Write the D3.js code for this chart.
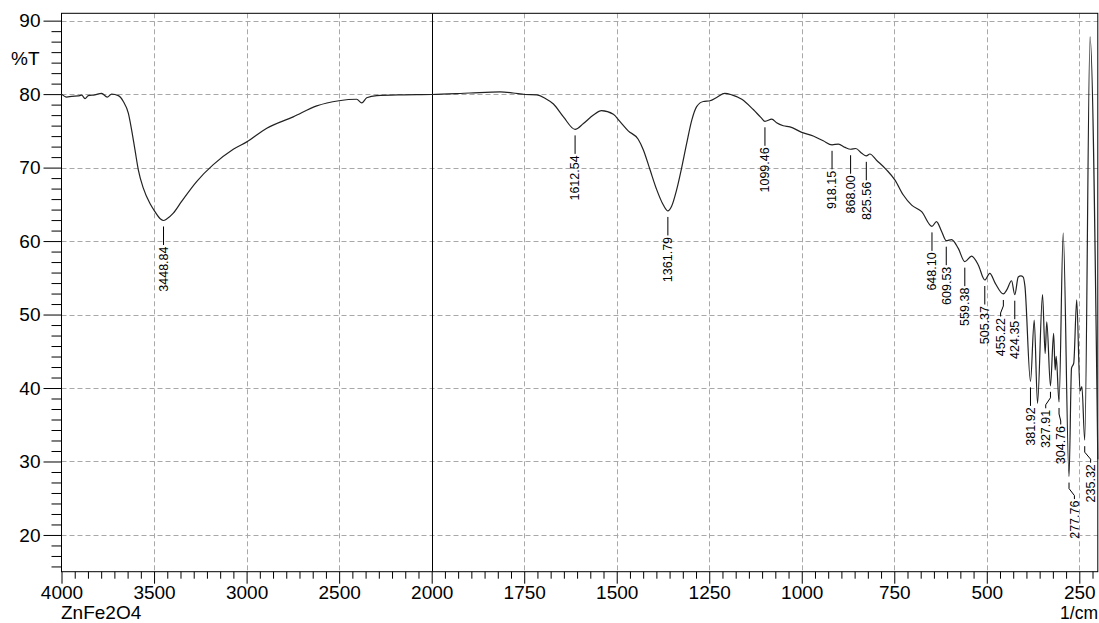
<!DOCTYPE html>
<html><head><meta charset="utf-8">
<script src="https://cdn.jsdelivr.net/npm/d3@7"></script>
<style>
body{margin:0;background:#fff}
svg{display:block}
text{font-family:"Liberation Sans",Arial,sans-serif;fill:#000}
</style>
</head><body>
<svg id="c" width="1099" height="623"></svg>
<script>
// ---- data ----
const wavenumbers = [4000,3972,3945,3910,3891,3873,3855,3820,3783,3753,3729,3693,3666,3639,3621,3603,3585,3558,3522,3495,3465,3448.84,3432,3396,3351,3270,3180,3072,2999,2891,2748,2621,2501,2405,2378,2351,2297,2150,2000,
1897,1815,1780,1748,1716,1694,1671,1644,1612.54,1590,1563,1541,1509,1491,1469,1442,1428,1410,1392,1374,1361.79,1352,1338,1324,1311,1297,1284,1266,1248,1230,1208,1189,1162,1131,1110,1099.46,1081,1068,1050,1032,1000,969,942,918.15,901,883,868.00,854,838,825.56,816,798,771,748,726,703,676,648.10,636,622,609.53,595,577,559.38,541,523,505.37,492,477,455.22,446,433,424.35,415,408,401.5,397,381.92,371.8,362.9,349.4,342.3,337.9,327.91,319.4,315.2,312.4,304.76,293.5,277.76,271,265,257,248,243,235.32,221,200];
const transmittance = [80.0,79.6,79.7,79.75,79.85,79.4,79.8,79.9,80.1,79.6,80.0,79.8,79.0,77.4,75.1,72.4,69.7,67.2,65.1,64.0,63.0,62.8,63.0,63.8,65.4,68.1,70.4,72.5,73.5,75.35,76.9,78.4,79.1,79.3,78.8,79.5,79.8,79.9,79.95,
80.15,80.3,80.15,79.95,79.9,79.45,78.65,76.9,75.2,76.0,77.15,77.75,77.25,76.25,75.0,73.85,72.4,69.7,67.0,64.9,64.1,64.7,67.0,70.1,73.3,76.5,78.3,79.0,79.1,79.55,80.1,79.9,79.3,77.9,76.8,76.3,76.6,76.1,75.7,75.55,74.8,74.3,73.65,73.1,73.2,72.75,72.5,72.6,71.95,71.6,71.85,71.0,69.7,68.3,66.3,64.9,64.0,62.0,62.65,61.3,60.05,60.2,59.0,57.2,57.95,56.75,54.7,55.6,54.25,52.8,53.35,54.6,52.7,55.1,55.25,55.1,53.9,40.9,49.25,37.9,52.7,44.7,49.0,40.3,47.45,42.45,44.3,38.1,61.1,27.95,42.7,43.4,52.0,39.6,40.2,32.9,87.8,30.3];

const xTickValues = [4000,3500,3000,2500,2000,1750,1500,1250,1000,750,500,250];
const yTickValues = [20,30,40,50,60,70,80,90];

const peakNames = ["3448.84","1612.54","1361.79","1099.46","918.15","868.00","825.56","648.10","609.53","559.38","505.37","455.22","424.35","381.92","327.91","304.76","277.76","235.32"];
const peakWavenumbers = [3448.84,1612.54,1361.79,1099.46,918.15,868.00,825.56,648.10,609.53,559.38,505.37,455.22,424.35,381.92,327.91,304.76,277.76,235.32];
// wavenumber at which each label's text is centred (differs where labels were pushed aside)
const peakLabelCentres = [3448.84,1612.54,1361.79,1099.46,918.15,868.00,825.56,648.10,609.53,559.38,505.37,462.6,424.35,381.92,340.7,300.2,263.2,219.4];

const sampleName = "ZnFe2O4";
const yTitle = "%T";
const xUnit = "1/cm";

// ---- chart ----
const svg = d3.select("#c");
const L = 61.5, R = 1097.8, T = 13.3, B = 571.7;
const x = d3.scaleLinear().domain([4000, 2000, 200]).range([L, 431.7, R]);
const y = d3.scaleLinear().domain([15, 91]).range([B, T]);

// minor ticks: 7 sub-intervals per labelled interval
const xMinor = [];
for (let i = 0; i < xTickValues.length - 1; i++) {
  const a = xTickValues[i], b = xTickValues[i + 1];
  for (let k = 1; k < 7; k++) xMinor.push(a + (b - a) * k / 7);
}
{ const step = (xTickValues[xTickValues.length - 2] - xTickValues[xTickValues.length - 1]) / 7;
  for (let v = xTickValues[xTickValues.length - 1] - step; v > 200; v -= step) xMinor.push(v); }
const yMinor = [];
for (let i = 0; i < yTickValues.length - 1; i++) {
  const a = yTickValues[i], b = yTickValues[i + 1];
  for (let k = 1; k < 7; k++) yMinor.push(a + (b - a) * k / 7);
}
for (let v = 20 - 10 / 7; v > 15; v -= 10 / 7) yMinor.push(v);

// grid
const grid = svg.append("g").attr("stroke", "#a8a8a8").attr("stroke-width", 1).attr("stroke-dasharray", "5,3");
grid.selectAll("line.h").data(yTickValues).join("line")
  .attr("x1", L).attr("x2", R).attr("y1", d => Math.round(y(d)) + 0.5).attr("y2", d => Math.round(y(d)) + 0.5);
grid.selectAll("line.v").data(xTickValues.filter(d => d !== 4000 && d !== 2000)).join("line")
  .attr("y1", T).attr("y2", B).attr("x1", d => Math.round(x(d)) + 0.5).attr("x2", d => Math.round(x(d)) + 0.5);

// solid divider at scale change
svg.append("line").attr("x1", Math.round(x(2000)) + 0.5).attr("x2", Math.round(x(2000)) + 0.5)
  .attr("y1", T).attr("y2", B).attr("stroke", "#000").attr("stroke-width", 1);

// axes
const fs = 19;
const fmt = d3.format("d");
svg.append("g").attr("transform", `translate(${L},0)`)
  .call(d3.axisLeft(y).tickValues(yTickValues).tickFormat(fmt).tickSize(18).tickSizeOuter(0).tickPadding(3));
svg.append("g").attr("transform", `translate(${L},0)`)
  .call(d3.axisLeft(y).tickValues(yMinor).tickSize(10).tickSizeOuter(0).tickFormat(""));
svg.append("g").attr("transform", `translate(0,${B})`)
  .call(d3.axisBottom(x).tickValues(xTickValues).tickFormat(fmt).tickSize(12).tickSizeOuter(0).tickPadding(1.7));
svg.append("g").attr("transform", `translate(0,${B})`)
  .call(d3.axisBottom(x).tickValues(xMinor).tickSize(7).tickSizeOuter(0).tickFormat(""));
svg.selectAll(".domain").remove();
svg.selectAll(".tick line").attr("stroke", "#000");
svg.selectAll(".tick text").attr("font-size", fs).attr("font-family", '"Liberation Sans",Arial,sans-serif').attr("fill", "#000");

// frame
svg.append("rect").attr("x", L).attr("y", T).attr("width", R - L).attr("height", B - T)
  .attr("fill", "none").attr("stroke", "#000").attr("stroke-width", 1);

// spectrum
const pts = wavenumbers.map((w, i) => [w, transmittance[i]]);
const line = d3.line().x(d => x(d[0])).y(d => y(d[1])).curve(d3.curveMonotoneX);
svg.append("path").datum(pts).attr("d", line)
  .attr("fill", "none").attr("stroke", "#222").attr("stroke-width", 1.2).attr("stroke-linejoin", "round");

// peak labels
const lab = svg.append("g");
peakNames.forEach((name, i) => {
  const w = peakWavenumbers[i];
  const idx = wavenumbers.indexOf(w);
  const px = x(w), py = y(transmittance[idx]);
  const lx = x(peakLabelCentres[i]);
  const kinked = Math.abs(lx - px) > 0.5;
  const ts = py + (kinked ? 24 : 26);
  const d = kinked
    ? `M${px},${py + 6}V${py + 12}L${lx},${py + 19}V${ts - 1.5}`
    : `M${px},${py + 6}V${ts - 1.5}`;
  lab.append("path").attr("d", d).attr("fill", "none").attr("stroke", "#000").attr("stroke-width", 1);
  lab.append("text").attr("transform", `translate(${lx},${ts}) rotate(-90)`)
    .attr("text-anchor", "end").attr("dy", "0.35em").attr("font-size", 12.5).text(name);
});

// titles
svg.append("text").attr("x", 11).attr("y", 65).attr("font-size", fs).text(yTitle);
svg.append("text").attr("x", 61).attr("y", 618.5).attr("font-size", fs).text(sampleName);
svg.append("text").attr("x", 1098).attr("y", 619).attr("text-anchor", "end").attr("font-size", 17.5).text(xUnit);
</script>
</body></html>
